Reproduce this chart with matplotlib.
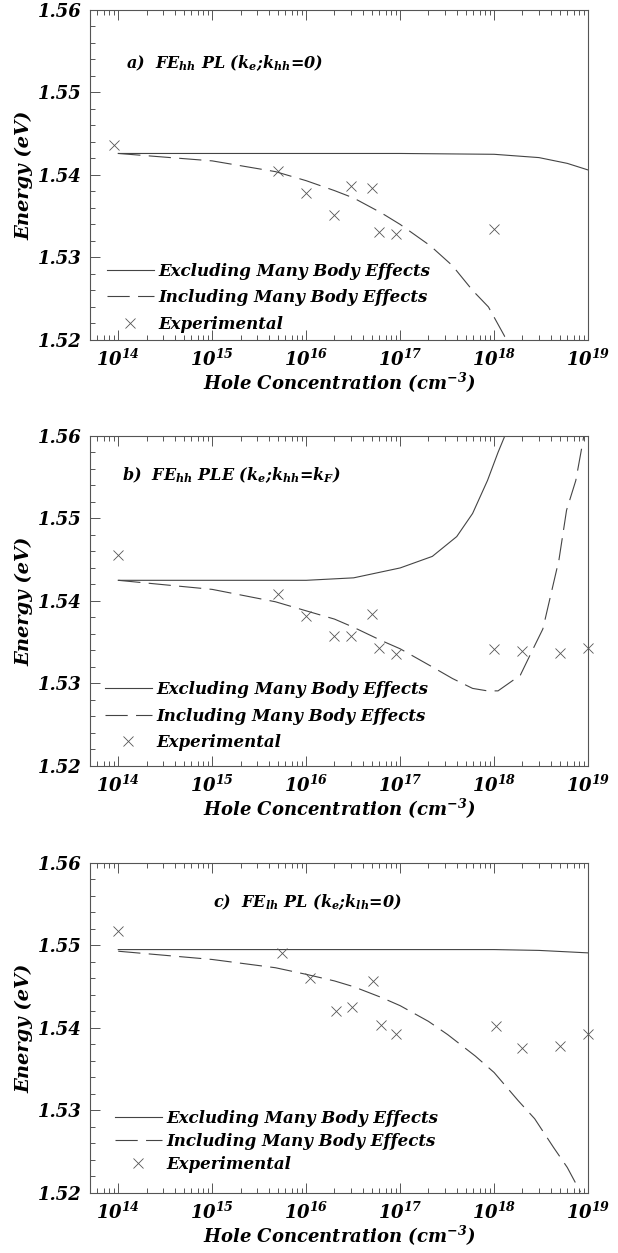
import numpy as np
import matplotlib
matplotlib.use("Agg")
import matplotlib.pyplot as plt
from matplotlib.ticker import LogLocator, LogFormatterSciNotation, MultipleLocator, FormatStrFormatter, NullFormatter

plt.rcParams['font.family'] = ['DejaVu Serif']
plt.rcParams['font.weight'] = 'bold'
plt.rcParams['font.style'] = 'italic'
plt.rcParams['axes.labelweight'] = 'bold'
plt.rcParams['mathtext.default'] = 'regular'
plt.rcParams['lines.scale_dashes'] = False

# ---- panel a) FE_hh PL ----
a_excl_x = [1e14, 1e15, 1e16, 1e17, 1e18, 3e18, 6e18, 1e19]
a_excl_y = [1.5426, 1.5426, 1.5426, 1.5426, 1.5425, 1.5421, 1.5414, 1.5406]
a_incl_x = [1e14, 1e15, 4.7e15, 1e16, 2e16, 3.2e16, 6.3e16, 1e17, 2.1e17, 3.6e17,
            5.9e17, 8.7e17, 1.3e18, 1.45e18]
a_incl_y = [1.5426, 1.5417, 1.5404, 1.5393, 1.5381, 1.5372, 1.5354, 1.5340, 1.5314, 1.5290,
            1.5260, 1.5240, 1.5204, 1.5200]
a_exp_x = [9e13, 5e15, 1e16, 2e16, 3e16, 5e16, 6e16, 9e16, 1e18]
a_exp_y = [1.5436, 1.5405, 1.5378, 1.5352, 1.5386, 1.5384, 1.5331, 1.5329, 1.5335]

# ---- panel b) FE_hh PLE ----
b_excl_x = [1e14, 1e15, 1e16, 3.2e16, 1e17, 2.2e17, 4e17, 5.9e17, 8.5e17, 1.1e18, 1.3e18]
b_excl_y = [1.5425, 1.5425, 1.5425, 1.5428, 1.5440, 1.5454, 1.5478, 1.5506, 1.5546, 1.5580, 1.5600]
b_incl_x = [1e14, 1e15, 4.7e15, 1e16, 2e16, 3.2e16, 6.3e16, 1e17, 2.2e17, 3.6e17, 5.9e17,
            8.5e17, 1.1e18, 1.9e18, 2.6e18, 3.3e18, 4.9e18, 5.9e18, 7.4e18, 8.7e18, 9e18]
b_incl_y = [1.5425, 1.5414, 1.5399, 1.5388, 1.5378, 1.5368, 1.5352, 1.5342, 1.5320, 1.5306, 1.5294,
            1.5291, 1.5291, 1.5310, 1.5342, 1.5366, 1.5450, 1.5510, 1.5546, 1.5590, 1.5600]
b_exp_x = [1e14, 5e15, 1e16, 2e16, 3e16, 5e16, 6e16, 9e16, 1e18, 2e18, 5e18, 1e19]
b_exp_y = [1.5456, 1.5409, 1.5382, 1.5358, 1.5357, 1.5384, 1.5343, 1.5336, 1.5342, 1.5339, 1.5337, 1.5343]

# ---- panel c) FE_lh PL ----
c_excl_x = [1e14, 1e15, 1e16, 1e17, 1e18, 3e18, 1e19]
c_excl_y = [1.5495, 1.5495, 1.5495, 1.5495, 1.5495, 1.5494, 1.5491]
c_incl_x = [1e14, 1e15, 4.7e15, 1e16, 2e16, 3.2e16, 6.3e16, 1e17, 2e17, 3.2e17, 6.3e17,
            1e18, 1.8e18, 2.7e18, 4.3e18, 6e18, 8.3e18]
c_incl_y = [1.5493, 1.5483, 1.5473, 1.5465, 1.5457, 1.5450, 1.5437, 1.5427, 1.5408, 1.5392, 1.5366,
            1.5346, 1.5312, 1.5290, 1.5255, 1.5231, 1.5201]
c_exp_x = [1e14, 5.5e15, 1.1e16, 2.1e16, 3.1e16, 5.1e16, 6.2e16, 9e16, 1.05e18, 2e18, 5e18, 1e19]
c_exp_y = [1.5518, 1.5491, 1.5460, 1.5421, 1.5426, 1.5457, 1.5404, 1.5393, 1.5402, 1.5376, 1.5378, 1.5393]

titles = [r"a)  FE$_{hh}$ PL (k$_e$;k$_{hh}$=0)",
          r"b)  FE$_{hh}$ PLE (k$_e$;k$_{hh}$=k$_F$)",
          r"c)  FE$_{lh}$ PL (k$_e$;k$_{lh}$=0)"]
title_pos = [(0.072, 0.84), (0.065, 0.88), (0.247, 0.88)]
legend_pos = [(0.034, 0.022), (0.03, 0.045), (0.05, 0.062)]
legend_space = [0.57, 0.57, 0.36]

panels = [(a_excl_x, a_excl_y, a_incl_x, a_incl_y, a_exp_x, a_exp_y),
          (b_excl_x, b_excl_y, b_incl_x, b_incl_y, b_exp_x, b_exp_y),
          (c_excl_x, c_excl_y, c_incl_x, c_incl_y, c_exp_x, c_exp_y)]
bottoms = [0.7287, 0.3887, 0.0479]

fig = plt.figure(figsize=(6.18, 12.53), dpi=100)
lc = '#444444'

for i, (ex, ey, ix, iy, px, py) in enumerate(panels):
    ax = fig.add_axes([0.1456, bottoms[i], 0.806, 0.2634])
    ax.plot(ex, ey, color=lc, lw=0.8, label='Excluding Many Body Effects')
    ax.plot(ix, iy, color=lc, lw=0.8, dashes=(16, 6), label='Including Many Body Effects')
    ax.plot(px, py, ls='none', marker='x', ms=7, mew=0.6, color='#555555',
            clip_on=False, label='Experimental')
    ax.set_xscale('log')
    ax.set_xlim(5e13, 1e19)
    ax.set_ylim(1.52, 1.56)
    ax.xaxis.set_major_locator(LogLocator(base=10, numticks=10))
    ax.xaxis.set_minor_locator(LogLocator(base=10, subs=np.arange(2, 10), numticks=20))
    ax.xaxis.set_major_formatter(LogFormatterSciNotation())
    ax.xaxis.set_minor_formatter(NullFormatter())
    ax.yaxis.set_major_locator(MultipleLocator(0.01))
    ax.yaxis.set_minor_locator(MultipleLocator(0.002))
    ax.yaxis.set_major_formatter(FormatStrFormatter('%.2f'))
    ax.tick_params(which='both', direction='in', top=True, right=False,
                   labelsize=13, pad=6, color='#555555', width=0.7)
    ax.tick_params(which='major', length=7)
    ax.tick_params(which='minor', length=3.5)
    for s in ax.spines.values():
        s.set_color('#555555')
        s.set_linewidth(0.8)
    ax.set_xlabel('Hole Concentration (cm$^{-3}$)', fontsize=13, labelpad=1)
    ax.set_ylabel('Energy (eV)', fontsize=14, labelpad=3)
    ax.text(title_pos[i][0], title_pos[i][1], titles[i], transform=ax.transAxes,
            fontsize=11.5, fontweight='bold', va='center', ha='left')
    ax.legend(loc='lower left', bbox_to_anchor=legend_pos[i], frameon=False,
              fontsize=12, handlelength=2.8, handletextpad=0.3,
              labelspacing=legend_space[i], borderpad=0, borderaxespad=0)

fig.savefig('out.png', dpi=100)
